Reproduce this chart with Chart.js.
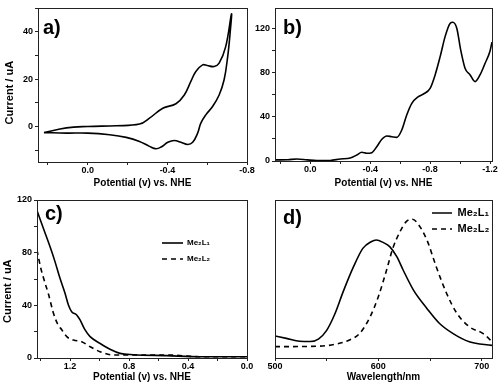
<!DOCTYPE html>
<html>
<head>
<meta charset="utf-8">
<script src="https://cdn.jsdelivr.net/npm/chart.js@4.4.1/dist/chart.umd.min.js"></script>
<style>
  html, body { margin: 0; padding: 0; background: #fff; }
  #fig { position: relative; width: 500px; height: 390px; overflow: hidden; }
  #fig canvas { position: absolute; }
</style>
</head>
<body>
<div id="fig">
  <canvas id="pa" width="258" height="195" style="left:0;top:0"></canvas>
  <canvas id="pb" width="250" height="195" style="left:250px;top:0"></canvas>
  <canvas id="pc" width="258" height="195" style="left:0;top:195px"></canvas>
  <canvas id="pd" width="250" height="195" style="left:250px;top:195px"></canvas>
</div>
<script>
// a) cyclic voltammogram: sweep towards negative potential, then back
const cvFwdV = [0.22, 0.107, 0.0, -0.143, -0.26, -0.31, -0.377, -0.443, -0.485, -0.518, -0.543, -0.577, -0.60, -0.635, -0.66, -0.693, -0.722];
const cvFwdI = [-2.6, -0.6, 0.0, 0.3, 1.0, 3.5, 7.7, 9.6, 13.3, 19.0, 23.2, 26.0, 25.7, 25.3, 26.7, 33.7, 47.5];
const cvRevV = [-0.715, -0.703, -0.685, -0.66, -0.627, -0.593, -0.568, -0.552, -0.527, -0.502, -0.468, -0.435, -0.402, -0.368, -0.343, -0.31, -0.26, -0.193, -0.11, 0.0, 0.107, 0.22];
const cvRevI = [39.3, 29.5, 19.7, 13.3, 8.4, 4.9, 1.4, -2.8, -6.7, -7.6, -6.7, -5.9, -6.7, -8.7, -9.4, -8.4, -6.3, -4.6, -3.5, -2.8, -2.8, -2.6];

// b) linear sweep
const lsvV = [0.23, 0.15, 0.089, 0.02, -0.044, -0.133, -0.2, -0.267, -0.311, -0.344, -0.378, -0.411, -0.444, -0.478, -0.511, -0.544, -0.578, -0.611, -0.644, -0.678, -0.722, -0.756, -0.8, -0.833, -0.867, -0.9, -0.933, -0.951, -0.978, -1.004, -1.033, -1.067, -1.1, -1.133, -1.167, -1.2, -1.213];
const lsvI = [1.0, 1.2, 1.8, 1.0, 0.4, 0.5, 1.8, 2.7, 5.5, 7.9, 7.0, 7.6, 13, 19.7, 22.7, 22.1, 21.5, 28.2, 41.8, 52.4, 58.5, 60.9, 66, 78, 94.8, 113, 125, 126, 120.6, 100.9, 84.3, 78.2, 72.1, 78.2, 88.8, 100, 108];

// c) anodic sweeps
const c1V = [1.424, 1.381, 1.336, 1.302, 1.268, 1.234, 1.211, 1.189, 1.155, 1.132, 1.098, 1.064, 0.997, 0.929, 0.861, 0.771, 0.545, 0.319, 0.0];
const c1I = [112, 98.5, 84.6, 73.2, 60.5, 49.1, 40.3, 35.2, 32.7, 28.9, 21.3, 16.2, 11.1, 6.6, 3.5, 2.5, 1.8, 1.0, 1.0];
const c2V = [1.424, 1.40, 1.375, 1.345, 1.315, 1.285, 1.255, 1.222, 1.177, 1.121, 1.064, 0.997, 0.907, 0.771, 0.545, 0.319, 0.0];
const c2I = [82, 69, 59, 48, 35, 26, 21.3, 16.2, 13.7, 12.4, 8.6, 4.8, 2.3, 2.3, 2.3, 1.0, 1.0];

// d) emission spectra (arbitrary units)
const d1W = [500, 511, 524, 534, 542, 550, 558, 566, 576, 585, 593, 598, 605, 611, 618, 624, 634, 647, 659, 672, 688, 710];
const d1I = [13.9, 12.4, 10.6, 10.4, 12.0, 17.5, 28, 42, 57.8, 69.4, 73.6, 74.7, 73, 70.5, 64, 55.7, 43, 31.4, 22, 15.6, 10.3, 8.0];
const d2W = [500, 540, 560, 572, 582, 592, 600, 608, 614, 621, 627, 633, 638, 647, 656, 666, 676, 688, 701, 710];
const d2I = [7.2, 7.4, 8.9, 11.4, 15.6, 26, 38.8, 55.7, 69.4, 80, 86.3, 87.8, 85.2, 74.7, 57.8, 41, 28.3, 19.8, 15.6, 10.5];

const seriesNames = ['Me\u2082L\u2081', 'Me\u2082L\u2082'];
const potTitle = 'Potential (v) vs. NHE';
const curTitle = 'Current / uA';
const wlTitle = 'Wavelength/nm';

const FONT = '"Liberation Sans", Arial, Helvetica, sans-serif';
const H = 195;
const LW = 1.6;
const pts = (xs, ys) => xs.map((x, i) => ({x: x, y: ys[i]}));

function tickText(v, major, dec) {
  const r = Math.round(v / major);
  if (Math.abs(v - r * major) > 1e-6) return '';
  return (r * major).toFixed(dec);
}

// box round the plot area
const frame = {
  id: 'frame',
  afterDraw(chart) {
    const {ctx, chartArea: a} = chart;
    ctx.save();
    ctx.strokeStyle = '#222';
    ctx.lineWidth = 1;
    ctx.strokeRect(Math.round(a.left) + 0.5, Math.round(a.top) + 0.5, Math.round(a.right - a.left), Math.round(a.bottom - a.top));
    ctx.restore();
  }
};

const panelLabel = {
  id: 'panelLabel',
  afterDraw(chart, args, o) {
    const ctx = chart.ctx;
    ctx.save();
    ctx.font = 'bold 20px ' + FONT;
    ctx.fillStyle = '#000';
    ctx.fillText(o.text, o.x, o.y);
    ctx.restore();
  }
};

// put the chartArea legend where the figure has it
const legendSpot = {
  id: 'legendSpot',
  afterLayout(chart, args, o) {
    const lg = chart.legend;
    if (!lg || o.left == null) return;
    lg.left = o.left; lg.top = o.top;
    lg.right = chart.width; lg.bottom = chart.height;
    lg.width = lg.right - lg.left; lg.height = lg.bottom - lg.top;
  }
};

// legend line samples keep the dataset's dash
function dashLabels(chart) {
  return Chart.defaults.plugins.legend.labels.generateLabels(chart).map(l => {
    const ds = chart.data.datasets[l.datasetIndex];
    l.lineDash = ds.borderDash || [];
    l.lineWidth = ds.borderWidth;
    l.strokeStyle = ds.borderColor;
    return l;
  });
}

function makeChart(id, p) {
  const cw = document.getElementById(id).width;
  const tickFont = {family: FONT, size: 9, weight: 'bold'};
  return new Chart(document.getElementById(id), {
    type: 'line',
    data: {datasets: p.datasets},
    plugins: [frame, panelLabel, legendSpot],
    options: {
      responsive: false,
      animation: false,
      layout: {padding: {left: 0, top: p.box.top, right: cw - p.box.right, bottom: 0}},
      elements: {point: {radius: 0}},
      plugins: {
        tooltip: {enabled: false},
        panelLabel: p.label,
        legendSpot: p.legend || {},
        legend: p.legend ? {
          display: true, position: 'chartArea', align: 'start',
          labels: {usePointStyle: true, pointStyle: 'line', pointStyleWidth: p.legend.box, padding: p.legend.pad,
                   generateLabels: dashLabels,
                   color: '#000', font: {family: FONT, size: p.legend.size, weight: 'bold'}}
        } : {display: false}
      },
      scales: {
        x: {
          type: 'linear', min: p.x.min, max: p.x.max, reverse: !!p.x.reverse,
          afterFit: s => { s.height = H - p.box.bottom; s.paddingLeft = 0; s.paddingRight = 0; },
          border: {color: '#222', width: 1},
          grid: {drawOnChartArea: false, tickLength: 3, color: '#222'},
          ticks: {stepSize: p.x.step, autoSkip: false, maxRotation: 0, includeBounds: false, padding: 0,
                  color: '#000', font: tickFont, callback: v => tickText(v, p.x.major, p.x.dec)},
          title: {display: true, text: p.x.title, color: '#000', font: {family: FONT, size: 10, weight: 'bold'},
                  padding: {top: 0, bottom: p.x.titlePad}}
        },
        y: {
          type: 'linear', min: p.y.min, max: p.y.max,
          afterFit: s => { s.width = p.box.left; s.paddingTop = 0; s.paddingBottom = 0; },
          border: {color: '#222', width: 1},
          grid: {drawOnChartArea: false, tickLength: p.y.noTicks ? 0 : 3, drawTicks: !p.y.noTicks, color: '#222'},
          ticks: {display: !p.y.noTicks, stepSize: p.y.step, autoSkip: false, includeBounds: false, padding: 2,
                  color: '#000', font: tickFont, callback: v => tickText(v, p.y.major, 0)},
          title: {display: !!p.y.title, text: p.y.title || '', color: '#000', font: {family: FONT, size: 11, weight: 'bold'},
                  padding: {top: p.y.titlePad || 0, bottom: 0}}
        }
      }
    }
  });
}

const solid = {borderColor: '#000', borderWidth: LW, fill: false};
const dashed = {borderColor: '#000', borderWidth: LW, fill: false, borderDash: [5, 4]};

makeChart('pa', {
  box: {left: 38, top: 8, right: 247, bottom: 162},
  datasets: [Object.assign({label: 'CV', data: pts(cvFwdV.concat(cvRevV), cvFwdI.concat(cvRevI)), tension: 0.4}, solid)],
  x: {min: -0.8, max: 0.25, reverse: true, step: 0.2, major: 0.4, dec: 1, title: potTitle, titlePad: 6},
  y: {min: -15, max: 50, step: 10, major: 20, title: curTitle + '     ', titlePad: 3},
  label: {text: 'a)', x: 43, y: 34}
});

makeChart('pb', {
  box: {left: 25, top: 8, right: 242, bottom: 161},
  datasets: [Object.assign({label: 'LSV', data: pts(lsvV, lsvI), cubicInterpolationMode: 'monotone'}, solid)],
  x: {min: -1.213, max: 0.235, reverse: true, step: 0.2, major: 0.4, dec: 1, title: potTitle, titlePad: 6},
  y: {min: 0, max: 139, step: 20, major: 40},
  label: {text: 'b)', x: 33, y: 34}
});

makeChart('pc', {
  box: {left: 37, top: 5, right: 247, bottom: 163},
  datasets: [
    Object.assign({label: seriesNames[0], data: pts(c1V, c1I), cubicInterpolationMode: 'monotone'}, solid),
    Object.assign({label: seriesNames[1], data: pts(c2V, c2I), cubicInterpolationMode: 'monotone'}, dashed)
  ],
  x: {min: 0, max: 1.424, reverse: true, step: 0.2, major: 0.4, dec: 1, title: potTitle, titlePad: 7},
  y: {min: 0, max: 120, step: 20, major: 40, title: curTitle + '        ', titlePad: 1},
  label: {text: 'c)', x: 45, y: 25},
  legend: {left: 154, top: 36, box: 21, pad: 8, size: 8}
});

makeChart('pd', {
  box: {left: 25, top: 5, right: 242, bottom: 163},
  datasets: [
    Object.assign({label: seriesNames[0], data: pts(d1W, d1I), cubicInterpolationMode: 'monotone'}, solid),
    Object.assign({label: seriesNames[1], data: pts(d2W, d2I), cubicInterpolationMode: 'monotone'}, dashed)
  ],
  x: {min: 500, max: 710, step: 50, major: 100, dec: 0, title: wlTitle, titlePad: 7},
  y: {min: 0, max: 100, step: 20, major: 20, noTicks: true},
  label: {text: 'd)', x: 33, y: 29},
  legend: {left: 177, top: 7.5, box: 20, pad: 5, size: 11}
});
</script>
</body>
</html>
